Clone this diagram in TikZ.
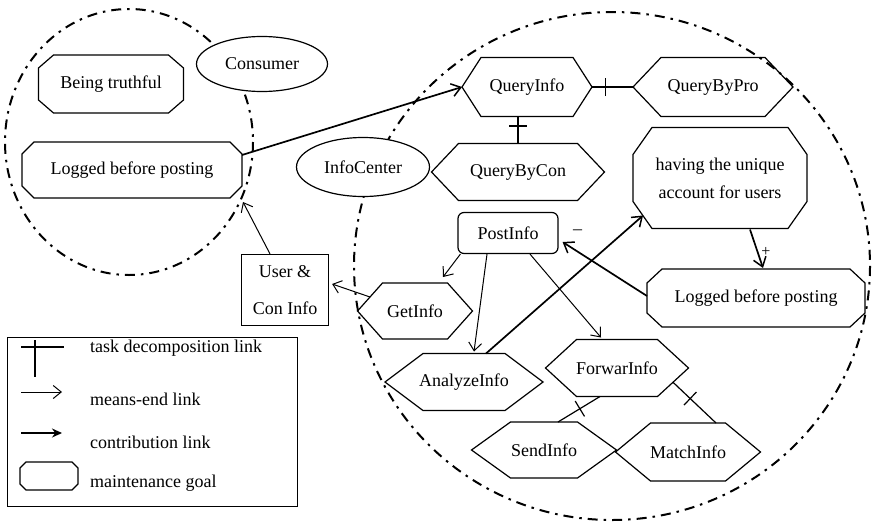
\documentclass[tikz,border=0pt]{standalone}
\usepackage{fontspec}
\setmainfont{Liberation Serif}
\usetikzlibrary{shapes.geometric,arrows.meta,calc,decorations.markings}
\newcommand\hexshape[2]{\draw[shp] (#1.west) -- ([xshift=#2pt]#1.north west) -- ([xshift=-#2pt]#1.north east) -- (#1.east) -- ([xshift=-#2pt]#1.south east) -- ([xshift=#2pt]#1.south west) -- cycle;}
\newcommand\octshape[3]{\draw[shp] ([yshift=-#3pt]#1.north west) -- ([xshift=#2pt]#1.north west) -- ([xshift=-#2pt]#1.north east) -- ([yshift=-#3pt]#1.north east) -- ([yshift=#3pt]#1.south east) -- ([xshift=-#2pt]#1.south east) -- ([xshift=#2pt]#1.south west) -- ([yshift=#3pt]#1.south west) -- cycle;}
\tikzset{
  box/.style={draw=none, inner sep=0pt, outer sep=0pt, align=center},
  shp/.style={line width=1.2pt, line join=miter},
  ell/.style={ellipse, draw, fill=white, line width=1.2pt, inner sep=0pt, outer sep=0pt},
  means/.style={line width=1pt, -{Straight Barb[length=8pt,width=13pt,line width=1pt]}},
  contrib/.style={line width=1.7pt, -{Straight Barb[length=9pt,width=13pt,line width=1.5pt]}},
  decomp/.style={line width=1.2pt, decoration={markings, mark=at position #1 with {\draw[line width=1.2pt] (0pt,-9pt) -- (0pt,9pt);}}, postaction=decorate},
  boundary/.style={line width=2pt, dash pattern=on 10pt off 6pt on 2.5pt off 6pt},
  legtext/.style={anchor=west, inner sep=0pt}
}
\begin{document}
\begin{tikzpicture}[x=1pt, y=-1pt, font=\fontsize{18}{20}\selectfont]
\fill[white] (0,0) rectangle (872,522);
\useasboundingbox (0,0) rectangle (872,522);

% actor boundaries
\draw[boundary] (129,142) ellipse [x radius=124, y radius=133];
\draw[boundary] (612,266) ellipse [x radius=258, y radius=254];

% actors
\node[ell, minimum width=131pt, minimum height=55pt] (cons) at (262,64) {Consumer};
\node[ell, minimum width=133pt, minimum height=59pt] (ic) at (363,167) {InfoCenter};

% goals (octagons)
\node[box, minimum width=145pt, minimum height=58pt] (bt) at (111,84) {Being truthful};
\octshape{bt}{15}{13}
\node[box, minimum width=220pt, minimum height=56pt] (lbl) at (132,170) {Logged before posting};
\octshape{lbl}{12}{12}
\node[box, minimum width=174pt, minimum height=101pt, font=\fontsize{18}{28}\selectfont] (hu) at (720,178) {having the unique\\account for users};
\octshape{hu}{19}{27}
\node[box, minimum width=218pt, minimum height=58pt] (lbr) at (756,298) {Logged before posting};
\octshape{lbr}{15}{14}

% tasks (hexagons)
\node[box, minimum width=130pt, minimum height=59pt] (qi) at (527,87) {QueryInfo};
\hexshape{qi}{19}
\node[box, minimum width=160pt, minimum height=59pt] (qp) at (713,87) {QueryByPro};
\hexshape{qp}{28}
\node[box, minimum width=173pt, minimum height=57pt] (qc) at (518,172) {QueryByCon};
\hexshape{qc}{27}
\node[box, minimum width=115pt, minimum height=56pt] (gi) at (415,311) {GetInfo};
\hexshape{gi}{25}
\node[box, minimum width=158pt, minimum height=57pt] (ai) at (464,382) {AnalyzeInfo};
\hexshape{ai}{38}
\node[box, minimum width=143pt, minimum height=57pt] (fi) at (617,368) {ForwarInfo};
\hexshape{fi}{31}
\node[box, minimum width=145pt, minimum height=56pt] (si) at (544,450) {SendInfo};
\hexshape{si}{39}
\node[box, minimum width=145pt, minimum height=58pt] (mi) at (688,452) {MatchInfo};
\hexshape{mi}{35}

% other elements
\node[draw, line width=1.2pt, rounded corners=6pt, inner sep=0pt, minimum width=100pt, minimum height=41pt] (pi) at (508,233) {PostInfo};
\node[draw, line width=1.2pt, inner sep=0pt, align=center, minimum width=87pt, minimum height=71pt, font=\fontsize{18}{37}\selectfont] (uc) at (285,290) {User \&\\Con Info};

% connectors
\draw[contrib] ($(lbl.east)+(0,-15)$) -- (qi.west);
\draw[means] ($(uc.north)+(-15,0)$) -- ($(lbl.south east)+(1,4)$);
\draw[means] ($(gi.west)!0.5!(gi.north west)+(12.5,0)$) -- ($(uc.east)+(3,-6)$);
\draw[decomp=0.32] (qi.east) -- (qp.west);
\draw[decomp=0.35] (qi.south -| qc.north) -- (qc.north);
\draw[decomp=0.48] ($(fi.south)+(-17,0)$) -- ($(si.north)+(14,0)$);
\draw[decomp=0.4] ($(fi.east)!0.5!(fi.south east)+(-15.5,0)$) -- ($(mi.north)+(28,0)$);
\draw[means] ($(pi.south west)+(3,0)$) -- ($(gi.north)+(28,-6)$);
\draw[means] ($(pi.south)+(-21,0)$) -- ($(ai.north)+(10,-2)$);
\draw[means] ($(pi.south)+(22,0)$) -- ($(fi.north)+(-16,-2)$);
\draw[contrib] ($(ai.north)+(22,0)$) -- ($(hu.south west)+(10,-13)$);
\draw[contrib] ($(lbr.west)+(0,-2)$) -- ($(pi.east)+(4,9)$);
\draw[contrib] ($(hu.south)+(30,1)$) -- ($(lbr.north)+(7,-1)$);
\node[inner sep=0pt] (mlab) at ($(pi.east)+(19,-1)$) {–};
\node[inner sep=0pt, font=\fontsize{16}{18}\selectfont] (plab) at ($(lbr.north)+(10,-17)$) {+};

% legend
\node[draw, line width=1.2pt, inner sep=0pt, minimum width=290pt, minimum height=169pt, anchor=north west] (legend) at (7,337) {};
\coordinate (c1a) at (21,347); \coordinate (c1b) at (64,347);
\coordinate (c2a) at (35,340); \coordinate (c2b) at (35,377);
\draw[shp] (c1a) -- (c1b);
\draw[shp] (c2a) -- (c2b);
\coordinate (m1) at (21,392); \coordinate (m2) at (62,392);
\draw[means] (m1) -- (m2);
\coordinate (k1) at (21,433); \coordinate (k2) at (62,433);
\draw[line width=1.4pt, -{Stealth[length=10pt,width=9pt]}] (k1) -- (k2);
\node[box, minimum width=58pt, minimum height=28pt] (lgoal) at (49,476) {};
\octshape{lgoal}{6}{6}
\node[legtext] (t1) at (90,348) {task decomposition link};
\node[legtext] (t2) at (90,399) {means-end link};
\node[legtext] (t3) at (90,442) {contribution link};
\node[legtext] (t4) at (90,483) {maintenance goal};
\end{tikzpicture}
\end{document}
